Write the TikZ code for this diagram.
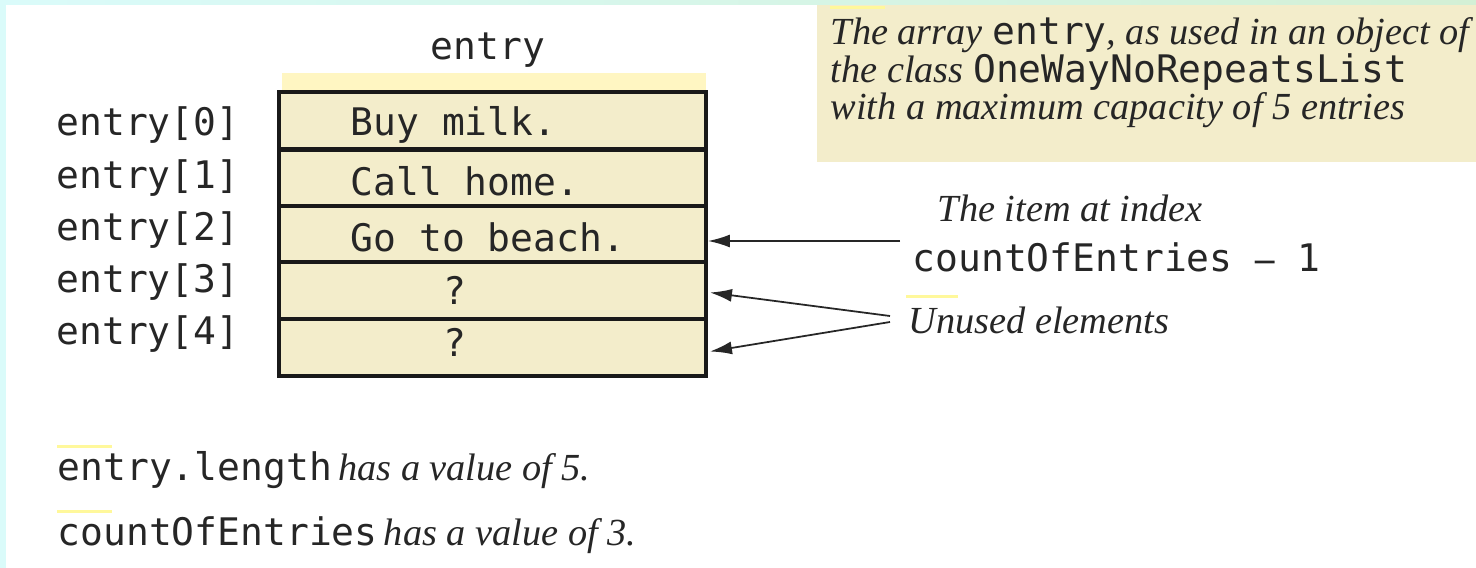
\documentclass[tikz,border=0pt]{standalone}
\usepackage{fontspec}
\setmainfont{Liberation Serif}
\setmonofont{DejaVu Sans Mono}
\usetikzlibrary{arrows.meta,calc}
\definecolor{cellfill}{HTML}{F3EDCB}
\definecolor{topstrip}{HTML}{FFF6C2}
\definecolor{edgecyan}{HTML}{DAFBFA}
\definecolor{edgegreen}{HTML}{D3F0D5}
\newcommand\cf{\ttfamily\fontsize{10.8}{12}\selectfont}
\newcommand\itf{\rmfamily\itshape\fontsize{10.9}{13}\selectfont}
\tikzset{
  cell/.style={draw=black!90, line width=1.1pt, fill=cellfill, minimum width=42.7mm, minimum height=5.7mm, inner sep=0pt},
  code/.style={font=\cf, inner sep=0pt, text=black!85},
  itlab/.style={font=\itf, inner sep=0pt, text=black!85},
  arr/.style={draw=black!85, line width=0.5pt, -{Latex[length=2.2mm,width=1.3mm]}},
  faint/.style={draw=topstrip!80!yellow, line width=0.3mm}
}
\begin{document}
\begin{tikzpicture}[x=0.1mm,y=-0.1mm]
\useasboundingbox (0,0) rectangle (1476,568);
\shade[left color=edgecyan, right color=edgegreen] (0,0) rectangle (1476,568);
\fill[white] (6,5) rectangle (1476,568);
% note box
\fill[cellfill] (817,5) rectangle (1476,162);
\node[itlab, anchor=base west] (n1) at (830,44) {The array \textup{\cf entry}, as used in an object of};
\node[itlab, anchor=base west] (n2) at (830,82) {the class \textup{\cf OneWayNoRepeatsList}};
\node[itlab, anchor=base west] (n3) at (830,119) {with a maximum capacity of 5 entries};
% header
\node[code] (hdr) at (488,50) {entry};
\fill[topstrip] (282,73) rectangle (706,91);
% cells
\node[cell] (c0) at (492.5,120.5) {};
\node[cell] (c1) at (492.5,178.5) {};
\node[cell] (c2) at (492.5,234.5) {};
\node[cell] (c3) at (492.5,290.5) {};
\node[cell] (c4) at (492.5,347.5) {};
\node[code, anchor=west] (t0) at (350,125) {Buy milk.};
\node[code, anchor=west] (t1) at (350,181) {Call home.};
\node[code, anchor=west] (t2) at (350,237) {Go to beach.};
\node[code] (t3) at (455,290) {?};
\node[code] (t4) at (455,342) {?};
% index labels
\node[code, anchor=east] (l0) at (240,125) {entry[0]};
\node[code, anchor=east] (l1) at (240,178) {entry[1]};
\node[code, anchor=east] (l2) at (240,230) {entry[2]};
\node[code, anchor=east] (l3) at (240,282) {entry[3]};
\node[code, anchor=east] (l4) at (240,334) {entry[4]};
% item label
\node[itlab, anchor=west] (it) at (937,208) {The item at index};
\node[code, anchor=west] (ce) at (912,257) {countOfEntries {\rmfamily\bfseries\fontsize{11}{13}\selectfont--} 1};
\coordinate (p1) at (900,241);
\draw[arr] (p1) -- (p1 -| c2.east);
% unused
\node[itlab, anchor=west] (un) at (908,320) {Unused elements};
\coordinate (u1) at (890,316);
\coordinate (u2) at (890,322);
\draw[arr] (u1) -- ($(c3.east)+(2,2)$);
\draw[arr] (u2) -- ($(c4.east)+(2,4)$);
% bottom notes
\node[code, anchor=west] (b1) at (57,470) {entry.length\,{\itf has a value of 5.}};
\node[code, anchor=west] (b2) at (57,535) {countOfEntries\,{\itf has a value of 3.}};
% faint marks
\draw[faint] (906,296) -- (958,296);
\draw[faint] (57,446) -- (112,446);
\draw[faint] (57,511) -- (112,511);
\draw[faint] (830,7) -- (885,7);
\end{tikzpicture}
\end{document}
